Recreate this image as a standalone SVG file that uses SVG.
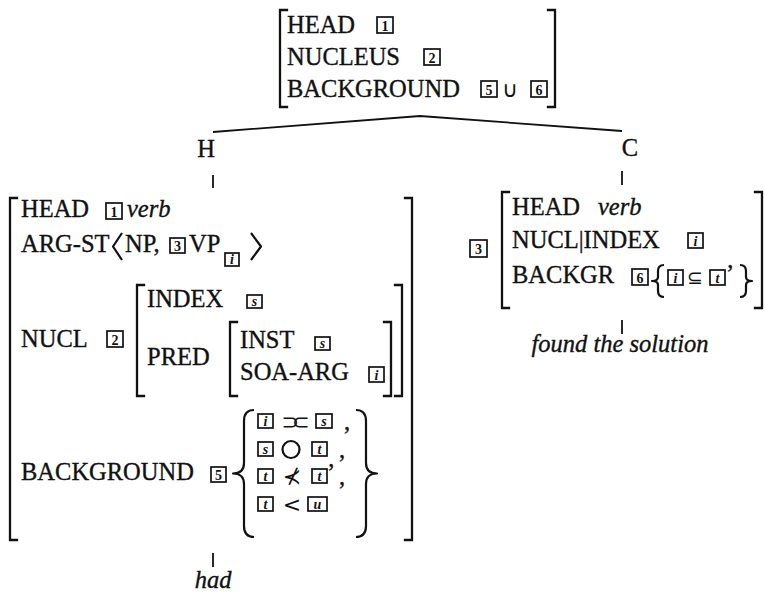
<svg xmlns="http://www.w3.org/2000/svg" width="765" height="594" viewBox="0 0 765 594">
  <style>
    .t { font-family: "Liberation Serif", "Times New Roman", serif; font-size: 24.5px; fill: #111; stroke: #111; stroke-width: 0.35; }
    .it { font-style: italic; }
    .sym { font-family: "DejaVu Sans", sans-serif; fill: #111; }
    .br { fill: none; stroke: #111; stroke-width: 2.3; stroke-linecap: square; }
    .dl { fill: none; stroke: #111; stroke-width: 2.2; stroke-linejoin: round; }
    .ln { fill: none; stroke: #111; stroke-width: 1.8; }
    .tag rect { fill: #fff; stroke: #111; stroke-width: 1.7; }
    .tag text { font-family: "Liberation Serif", serif; font-size: 14px; font-weight: bold; text-anchor: middle; fill: #111; }
    .tag text.v { font-style: italic; }
  </style>

  <rect width="765" height="594" fill="#fff"/>

  <!-- tree connectors -->
  <g id="connectors">
    <path class="ln" d="M213 132 L420 116 L622 131"/>
    <path class="ln" d="M213 175 V188"/>
    <path class="ln" d="M622 171 V185"/>
    <path class="ln" d="M213 553 V567"/>
    <path class="ln" d="M622 320 V334"/>
  </g>

  <!-- mother node -->
  <g id="mother">
    <path class="br" d="M287 10 H280 V107 H287"/>
    <path class="br" d="M548 10 H555 V107 H548"/>
    <text class="t" x="287" y="33">HEAD</text>
    <text class="t" x="287" y="65">NUCLEUS</text>
    <text class="t" x="287" y="97">BACKGROUND</text>
    <g class="tag" transform="translate(377,17)"><rect width="16" height="16"/><text x="8" y="13.5">1</text></g>
    <g class="tag" transform="translate(424,49)"><rect width="16" height="16"/><text x="8" y="13.5">2</text></g>
    <g class="tag" transform="translate(481,81)"><rect width="16" height="16"/><text x="8" y="13.5">5</text></g>
    <text class="sym" x="510" y="97" font-size="22" text-anchor="middle">∪</text>
    <g class="tag" transform="translate(531,81)"><rect width="16" height="16"/><text x="8" y="13.5">6</text></g>
  </g>

  <!-- daughter labels -->
  <g id="label-H">
    <text class="t" x="206" y="157" text-anchor="middle">H</text>
  </g>
  <g id="label-C">
    <text class="t" x="630" y="156" text-anchor="middle">C</text>
  </g>

  <!-- head daughter -->
  <g id="head-daughter">
    <path class="br" d="M17 198 H10 V540 H17"/>
    <path class="br" d="M405 198 H412 V540 H405"/>

    <text class="t" x="21" y="217">HEAD</text>
    <g class="tag" transform="translate(106,203)"><rect width="16" height="16"/><text x="8" y="13.5">1</text></g>
    <text class="t it" x="127" y="217">verb</text>

    <text class="t" x="21" y="252">ARG-ST</text>
    <path class="dl" d="M122 233 L113 246.5 L122 260"/>
    <text class="t" x="125" y="252">NP,</text>
    <g class="tag" transform="translate(170,238)"><rect width="15" height="15"/><text x="7.5" y="13">3</text></g>
    <text class="t" x="189" y="252">VP</text>
    <g class="tag" transform="translate(225,253)"><rect width="14" height="13"/><text class="v" x="7" y="11">i</text></g>
    <path class="dl" d="M251 233 L261 246.5 L251 260"/>

    <text class="t" x="21" y="347">NUCL</text>
    <g class="tag" transform="translate(107,331)"><rect width="16" height="16"/><text x="8" y="13.5">2</text></g>
    <path class="br" d="M144 285 H137 V396 H144"/>
    <path class="br" d="M395 285 H402 V396 H395"/>
    <text class="t" x="147" y="307">INDEX</text>
    <g class="tag" transform="translate(247,295)"><rect width="15" height="13"/><text class="v" x="7.5" y="11">s</text></g>
    <text class="t" x="147" y="365">PRED</text>
    <path class="br" d="M237 322 H230 V396 H237"/>
    <path class="br" d="M384 322 H391 V396 H384"/>
    <text class="t" x="240" y="348">INST</text>
    <g class="tag" transform="translate(315,337)"><rect width="15" height="13"/><text class="v" x="7.5" y="11">s</text></g>
    <text class="t" x="240" y="380">SOA-ARG</text>
    <g class="tag" transform="translate(369,367)"><rect width="15" height="15"/><text class="v" x="7.5" y="12.5">i</text></g>

    <text class="t" x="21" y="480">BACKGROUND</text>
    <g class="tag" transform="translate(211,467)"><rect width="15" height="15"/><text x="7.5" y="13">5</text></g>
    <path class="dl" d="M254 410 Q244 410 244 421 V463 Q244 473.5 233 473.5 Q244 473.5 244 484 V526 Q244 537 254 537"/>
    <path class="dl" d="M356 410 Q366 410 366 421 V463 Q366 473.5 377 473.5 Q366 473.5 366 484 V526 Q366 537 356 537"/>

    <!-- row 1: abutment -->
    <g class="tag" transform="translate(258,414)"><rect width="15" height="14"/><text class="v" x="7.5" y="12">i</text></g>
    <text class="sym" x="292" y="429" font-size="21" text-anchor="middle" letter-spacing="-7">⊃⊂</text>
    <g class="tag" transform="translate(316,414)"><rect width="16" height="14"/><text class="v" x="8" y="12">s</text></g>
    <text class="t" x="344" y="430">,</text>
    <!-- row 2: overlap -->
    <g class="tag" transform="translate(258,442)"><rect width="15" height="14"/><text class="v" x="7.5" y="12">s</text></g>
    <circle cx="291" cy="449.5" r="8.5" class="dl"/>
    <g class="tag" transform="translate(312,442)"><rect width="15" height="14"/><text class="v" x="7.5" y="12">t</text></g>
    <text class="t" x="339" y="458">,</text>
    <!-- row 3: not preceding -->
    <g class="tag" transform="translate(258,469)"><rect width="15" height="14"/><text class="v" x="7.5" y="12">t</text></g>
    <text class="sym" x="292" y="484" font-size="22" text-anchor="middle">⊀</text>
    <g class="tag" transform="translate(312,469)"><rect width="15" height="14"/><text class="v" x="7.5" y="12">t</text></g>
    <text class="t" x="327" y="481" font-size="15">’</text>
    <text class="t" x="339" y="485">,</text>
    <!-- row 4: precedence -->
    <g class="tag" transform="translate(258,497)"><rect width="15" height="14"/><text class="v" x="7.5" y="12">t</text></g>
    <text class="sym" x="292" y="512" font-size="22" text-anchor="middle">&lt;</text>
    <g class="tag" transform="translate(308,497)"><rect width="19" height="14"/><text class="v" x="9.5" y="12">u</text></g>
  </g>

  <!-- complement daughter -->
  <g id="comp-daughter">
    <g class="tag" transform="translate(470,240)"><rect width="17" height="17"/><text x="8.5" y="14">3</text></g>
    <path class="br" d="M509 192 H502 V308 H509"/>
    <path class="br" d="M755 192 H762 V308 H755"/>
    <text class="t" x="512" y="215">HEAD</text>
    <text class="t it" x="598" y="215">verb</text>
    <text class="t" x="512" y="248">NUCL|INDEX</text>
    <g class="tag" transform="translate(688,233)"><rect width="15" height="15"/><text class="v" x="7.5" y="12.5">i</text></g>
    <text class="t" x="512" y="283">BACKGR</text>
    <g class="tag" transform="translate(632,269)"><rect width="16" height="16"/><text x="8" y="13.5">6</text></g>
    <path class="dl" d="M664 265 Q658 265 658 271 V277 Q658 281 652 281 Q658 281 658 285 V291 Q658 297 664 297"/>
    <g class="tag" transform="translate(668,270)"><rect width="15" height="15"/><text class="v" x="7.5" y="12.5">i</text></g>
    <text class="sym" x="695" y="284" font-size="19" text-anchor="middle">⊆</text>
    <g class="tag" transform="translate(710,270)"><rect width="15" height="15"/><text class="v" x="7.5" y="12.5">t</text></g>
    <text class="t" x="726" y="282" font-size="15">’</text>
    <path class="dl" d="M740 265 Q746 265 746 271 V277 Q746 281 752 281 Q746 281 746 285 V291 Q746 297 740 297"/>
  </g>

  <!-- lexical leaves -->
  <g id="leaf-had">
    <text class="t it" x="213" y="588" text-anchor="middle">had</text>
  </g>
  <g id="leaf-found">
    <text class="t it" x="620" y="352" text-anchor="middle">found the solution</text>
  </g>
</svg>
